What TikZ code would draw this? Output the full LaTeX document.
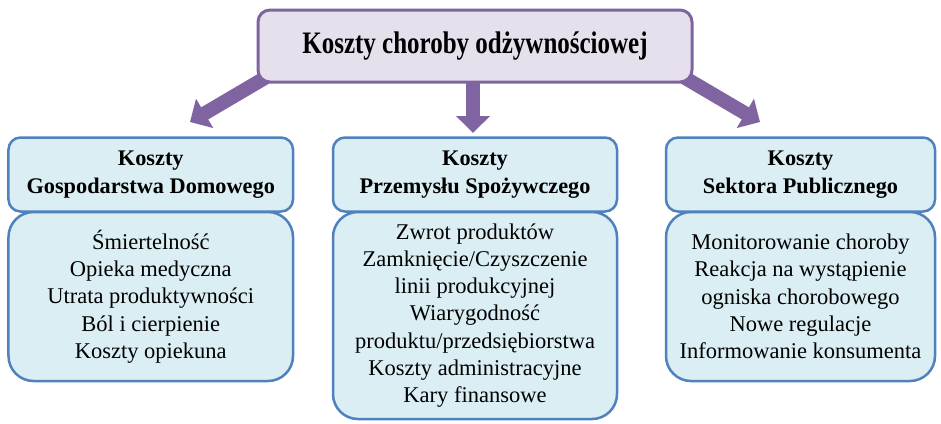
\documentclass[tikz,border=0pt]{standalone}
\usepackage{fontspec}
\setmainfont{Liberation Serif}
\usetikzlibrary{arrows.meta,backgrounds}
\definecolor{pborder}{HTML}{8064A2}
\definecolor{pfill}{HTML}{E5E0EC}
\definecolor{bborder}{HTML}{4F81BD}
\definecolor{bfill}{HTML}{DAEEF3}
\begin{document}
\begin{tikzpicture}[x=1bp,y=-1bp,
 topbox/.style={draw=pborder, fill=pfill, line width=3bp, rounded corners=12bp, minimum width=434bp, minimum height=72bp, inner sep=0pt},
 hdrbox/.style={draw=bborder, fill=bfill, line width=2.5bp, rounded corners=12bp, minimum height=74bp, align=center, font=\bfseries\fontsize{22.3bp}{28bp}\selectfont, inner sep=0pt},
 bodybox/.style={draw=bborder, fill=bfill, line width=2.5bp, rounded corners=25bp, align=center, font=\fontsize{22.5bp}{27.3bp}\selectfont, inner sep=0pt},
 fatarrow/.style={draw=pborder, line width=14bp, -{Triangle[width=33bp,length=17bp]}}]
\useasboundingbox (0,0) rectangle (941,423);
% top box
\node[topbox] (top) at (475,46) {\scalebox{1}[1.25]{\bfseries\fontsize{25bp}{25bp}\selectfont Koszty choroby odżywnościowej}};
% bodies
\node[bodybox, minimum width=284.5bp, minimum height=169bp] (lbody) at (150.75,296.5)
 {Śmiertelność\\Opieka medyczna\\Utrata produktywności\\Ból i cierpienie\\Koszty opiekuna};
\node[bodybox, minimum width=284bp, minimum height=207bp] (mbody) at (475,315.5)
 {Zwrot produktów\\Zamknięcie/Czyszczenie\\linii produkcyjnej\\Wiarygodność\\produktu/przedsiębiorstwa\\Koszty administracyjne\\Kary finansowe};
\node[bodybox, minimum width=269bp, minimum height=169bp] (rbody) at (800.5,296.5)
 {Monitorowanie choroby\\Reakcja na wystąpienie\\ogniska chorobowego\\Nowe regulacje\\Informowanie konsumenta};
% headers
\node[hdrbox, minimum width=284.5bp] (lhdr) at (150.75,174.5) {Koszty\\Gospodarstwa Domowego};
\node[hdrbox, minimum width=284bp] (mhdr) at (475,174.5) {Koszty\\Przemysłu Spożywczego};
\node[hdrbox, minimum width=269bp] (rhdr) at (800.5,174.5) {Koszty\\Sektora Publicznego};
% arrow ends
\coordinate (ls) at (275,72);
\coordinate (lt) at (190,122);
\coordinate (ms) at (473,60);
\coordinate (mt) at (473,133);
\coordinate (rs) at (675,72);
\coordinate (rt) at (760,122);
\begin{scope}[on background layer]
\draw[fatarrow] (ls) -- (lt);
\draw[fatarrow] (ms) -- (mt);
\draw[fatarrow] (rs) -- (rt);
\end{scope}
\end{tikzpicture}
\end{document}
